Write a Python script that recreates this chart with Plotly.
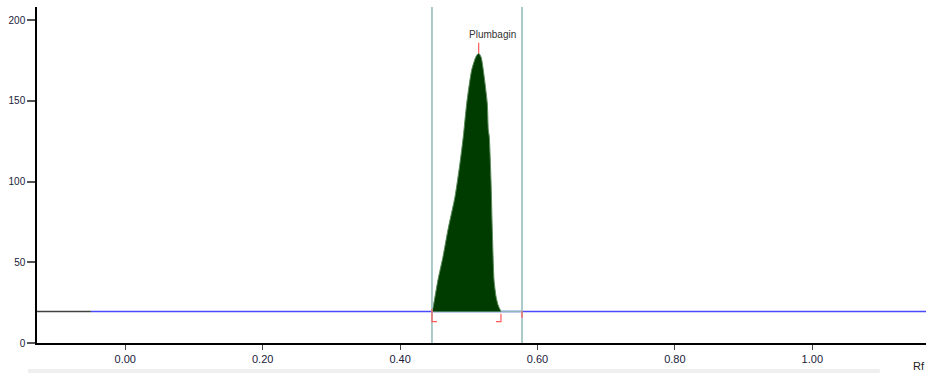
import plotly.graph_objects as go

# ---- data ----
peak_rf = [0.4464, 0.4483, 0.4552, 0.4625, 0.4697, 0.4800, 0.4872, 0.4920, 0.4970,
           0.5042, 0.5105, 0.5144, 0.5180, 0.5211, 0.5269, 0.5284, 0.5298, 0.5323,
           0.5342, 0.5367, 0.5396, 0.5425, 0.5468]
peak_au = [19.5, 22.7, 39.2, 53.6, 70.2, 90.8, 111.6, 127.9, 148.6,
           169.2, 177.5, 179.6, 177.0, 169.2, 148.6, 132.1, 127.9, 101.1,
           70.2, 39.2, 28.9, 23.7, 19.5]
baseline_au = 19.5
baseline_black_end = -0.05
window_rf = [0.4464, 0.5775]
peak_name = "Plumbagin"
peak_max_rf = 0.5144
peak_max_au = 179.6
x_ticks = [0.0, 0.2, 0.4, 0.6, 0.8, 1.0]
y_ticks = [0, 50, 100, 150, 200]
x_range = [-0.1285, 1.1655]
y_range = [0, 208.2]

fig = go.Figure()

# baseline: black part then blue
fig.add_trace(go.Scatter(x=[x_range[0], baseline_black_end], y=[baseline_au, baseline_au],
                         mode="lines", line=dict(color="#404040", width=1.5), hoverinfo="skip"))
fig.add_trace(go.Scatter(x=[baseline_black_end, x_range[1]], y=[baseline_au, baseline_au],
                         mode="lines", line=dict(color="#4a4aff", width=1.5), hoverinfo="skip"))
fig.add_trace(go.Scatter(x=window_rf, y=[baseline_au, baseline_au],
                         mode="lines", line=dict(color="#8fb9b9", width=1.5), hoverinfo="skip"))

# filled peak
fig.add_trace(go.Scatter(x=peak_rf, y=peak_au, mode="lines", fill="toself",
                         fillcolor="#003c00", line=dict(color="#5b8a5b", width=1, shape="spline", smoothing=0.6),
                         hoverinfo="skip"))

shapes = []
# integration window vertical lines
for xv in window_rf:
    shapes.append(dict(type="line", xref="x", yref="paper", x0=xv, x1=xv, y0=0, y1=1,
                       line=dict(color="#8fb9b9", width=1.5)))
red = "#ff5a5a"
ps, pe = peak_rf[0], peak_rf[-1]
# peak start bracket
shapes.append(dict(type="path", xref="x", yref="y",
                   path=f"M {ps},{baseline_au+1.5} L {ps},{baseline_au-6.3} L {ps+0.0073},{baseline_au-6.3}",
                   line=dict(color=red, width=1.2)))
# peak end bracket
shapes.append(dict(type="path", xref="x", yref="y",
                   path=f"M {pe},{baseline_au-1.4} L {pe},{baseline_au-6.3} L {pe-0.0073},{baseline_au-6.3}",
                   line=dict(color=red, width=1.2)))
# window end mark
shapes.append(dict(type="line", xref="x", yref="y", x0=window_rf[1], x1=window_rf[1],
                   y0=baseline_au + 0.2, y1=baseline_au - 4.0, line=dict(color=red, width=1.2)))
# peak max tick
shapes.append(dict(type="line", xref="x", yref="y", x0=peak_max_rf, x1=peak_max_rf,
                   y0=peak_max_au, y1=peak_max_au + 6.5, line=dict(color=red, width=1.2)))
# scrollbar strip
shapes.append(dict(type="rect", xref="paper", yref="paper", x0=-0.0101, x1=0.948,
                   y0=-0.089, y1=-0.0774, fillcolor="#efefef", line=dict(width=0), layer="below"))

annotations = [
    dict(x=0.5338, y=191.3, xref="x", yref="y", text=peak_name, showarrow=False,
         font=dict(family="Liberation Sans, Arial", size=10, color="#333333"),
         xanchor="center", yanchor="middle"),
    dict(x=0.992, y=-0.068, xref="paper", yref="paper", text="Rf", showarrow=False,
         font=dict(family="Liberation Sans, Arial", size=11, color="#222222"),
         xanchor="center", yanchor="middle"),
]

fig.update_layout(
    width=926, height=373,
    margin=dict(l=37, r=0, t=7, b=30),
    paper_bgcolor="white", plot_bgcolor="white",
    showlegend=False,
    shapes=shapes, annotations=annotations,
    font=dict(family="Liberation Sans, Arial", color="#1a1a3a"),
)
fig.update_xaxes(range=x_range, tickvals=x_ticks, tickformat=".2f",
                 showgrid=False, zeroline=False, showline=True, linecolor="#000000", linewidth=1.5,
                 ticks="outside", ticklen=5, tickcolor="#444444", tickwidth=1,
                 tickfont=dict(size=11, color="#1a1a3a"))
fig.update_yaxes(range=y_range, tickvals=y_ticks,
                 showgrid=False, zeroline=False, showline=True, linecolor="#000000", linewidth=1.5,
                 ticks="outside", ticklen=8, tickcolor="#555555", tickwidth=1.5,
                 tickfont=dict(size=10, color="#1a1a3a"))

fig.write_html("out.html", config={"displayModeBar": False},
               post_script="document.body.style.margin='0';document.body.style.overflow='hidden';")
